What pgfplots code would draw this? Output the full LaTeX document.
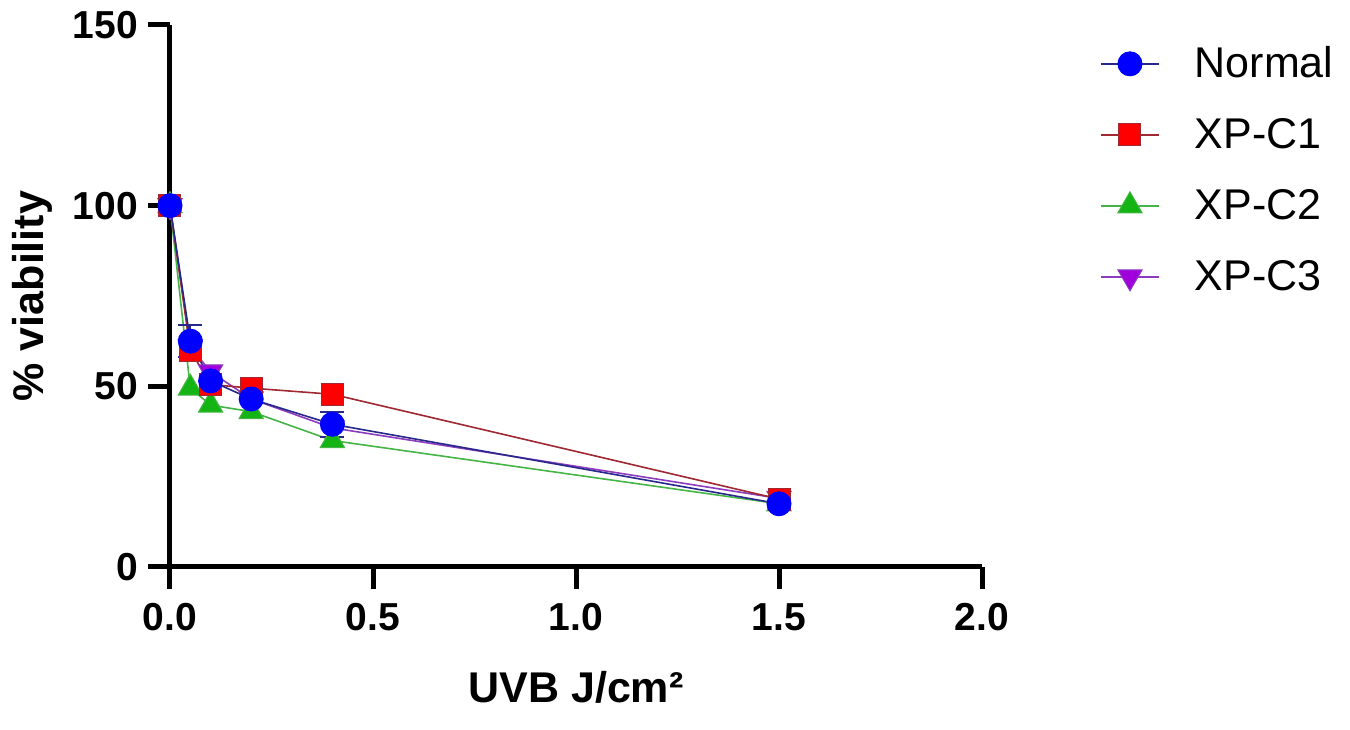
\documentclass[border=0pt]{standalone}
\usepackage{pgfplots}
\pgfplotsset{compat=1.18}
\usepackage{fontspec}
\setmainfont{Liberation Sans}
\definecolor{mNormal}{RGB}{0,0,255}
\definecolor{lNormal}{RGB}{40,40,140}
\definecolor{mC1}{RGB}{255,0,0}
\definecolor{lC1}{RGB}{160,40,50}
\definecolor{mC2}{RGB}{20,180,20}
\definecolor{lC2}{RGB}{70,180,70}
\definecolor{mC3}{RGB}{160,0,220}
\definecolor{lC3}{RGB}{140,60,190}
\begin{document}
\begin{tikzpicture}
\path[use as bounding box] (0,0) rectangle (1350pt,730pt);
\begin{axis}[
  at={(170pt,163pt)}, anchor=south west,
  scale only axis, width=812pt, height=542pt,
  xmin=0, xmax=2, ymin=0, ymax=150,
  axis x line*=bottom, axis y line*=left,
  axis line style={line width=5pt, black},
  x axis line style={line width=5pt},
  y axis line style={line width=5pt},
  major tick style={line width=5pt, black},
  tick align=outside, major tick length=22pt,
  xtick={0,0.5,1,1.5,2}, ytick={0,50,100,150},
  /pgf/number format/assume math mode=true,
  tick label style={font=\fontsize{39}{39}\selectfont\bfseries},
  xticklabel style={inner sep=0pt, yshift=-14pt, /pgf/number format/.cd, fixed, fixed zerofill, precision=1},
  yticklabel style={inner sep=0pt, xshift=-10pt, /pgf/number format/fixed},
  xlabel={UVB J/cm²},
  ylabel={\% viability},
  label style={font=\fontsize{43}{43}\selectfont\bfseries},
  xlabel style={at={(axis description cs:0.5,-0.2214)}, anchor=center},
  ylabel style={at={(axis description cs:-0.170,0.5)}, anchor=center},
  clip=false,
  reverse legend,
  legend style={at={(1.1453,0.961)}, anchor=north west, draw=none, fill=none,
    font=\fontsize{43}{43}\selectfont, inner sep=0pt, row sep=40pt, column sep=35pt,
    nodes={inner sep=0pt, text height=31pt, text depth=0pt}},
  legend cell align=left,
  legend image code/.code={\draw[mark repeat=2,mark phase=2,#1] plot coordinates {(0pt,-2pt) (29pt,-2pt) (58pt,-2pt)};},
  every axis plot/.append style={line width=1.6pt},
]
\addplot[lC3, mark=triangle*, mark size=14pt, mark options={fill=mC3, draw=lC3, rotate=180, line width=1pt}]
  coordinates {(0,100) (0.05,61) (0.1,54) (0.2,46.5) (0.4,38.5) (1.5,19)};
\addlegendentry{XP-C3}
\addplot[lC2, mark=triangle*, mark size=14pt, mark options={fill=mC2, draw=lC2, line width=1pt}]
  coordinates {(0,100) (0.05,49.5) (0.1,44.8) (0.2,43) (0.4,35) (1.5,17.5)};
\addlegendentry{XP-C2}
\addplot[lC1, mark=square*, mark size=11pt, mark options={fill=mC1, draw=lC1, line width=1pt}]
  coordinates {(0,100) (0.05,60) (0.1,50.5) (0.2,49.5) (0.4,47.8) (1.5,18.8)};
\addlegendentry{XP-C1}
\addplot[lNormal, mark=*, mark size=12pt, mark options={fill=mNormal, draw=mNormal, line width=1pt},
  error bars/.cd, y dir=both, y explicit,
  error bar style={line width=2pt, lNormal},
  error mark options={rotate=90, mark size=12pt, line width=2pt, lNormal}]
  coordinates {(0,100) +- (0,0) (0.05,62.5) +- (0,4.5) (0.1,51.5) +- (0,0) (0.2,46.5) +- (0,0) (0.4,39.5) +- (0,3.5) (1.5,17.5) +- (0,0)};
\addlegendentry{Normal}
\end{axis}
\end{tikzpicture}
\end{document}
